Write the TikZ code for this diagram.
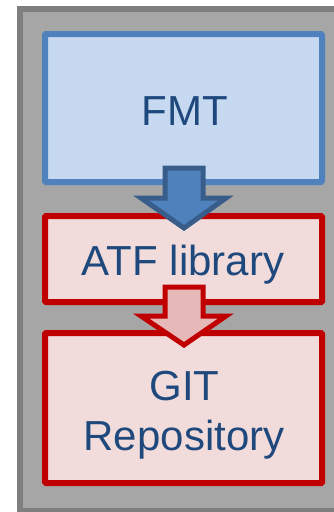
\documentclass[tikz,border=0pt]{standalone}
\usepackage{fontspec}
\setmainfont{Liberation Sans}
\definecolor{panelfill}{HTML}{A6A6A6}
\definecolor{panelline}{HTML}{7F7F7F}
\definecolor{blueline}{HTML}{4F81BD}
\definecolor{bluefill}{HTML}{C6D9F1}
\definecolor{bluearrowline}{HTML}{385D8A}
\definecolor{redline}{HTML}{C00000}
\definecolor{redfill}{HTML}{F2DCDB}
\definecolor{redarrowfill}{HTML}{E6B9B8}
\definecolor{textblue}{HTML}{1F497D}
\begin{document}
\begin{tikzpicture}[x=1pt,y=-1pt,
  box/.style={rectangle, line width=6pt, inner sep=0pt, outer sep=0pt, rounded corners=1pt},
  bluebox/.style={box, draw=blueline, fill=bluefill},
  redbox/.style={box, draw=redline, fill=redfill},
  lbl/.style={anchor=base, inner sep=0pt, text=textblue, font=\fontsize{42}{50}\selectfont},
  blockarrow/.style={line width=5pt, line join=miter}
]
\useasboundingbox (0,0) rectangle (334,512);
\clip (0,0) rectangle (334,512);
% grey panel behind the stack
\draw[line width=6pt, draw=panelline, fill=panelfill] (20,9) rectangle (345,511);
% the three layers
\node[bluebox, minimum width=277pt, minimum height=148pt] (fmt) at (183.5,108) {};
\node[redbox, minimum width=277pt, minimum height=86pt] (atf) at (183.5,259) {};
\node[redbox, minimum width=277pt, minimum height=150pt] (git) at (183.5,408) {};
% labels
\node[lbl] (fmtlabel) at (185,125) {FMT};
\node[lbl] (atflabel) at (183,275) {ATF library};
\node[lbl] (gitlabel) at (184.5,400) {GIT};
\node[lbl] (repolabel) at (184,450) {Repository};
% block arrows between layers
\draw[blockarrow, draw=bluearrowline, fill=blueline]
  (165,168) -- (203,168) -- (203,198) -- (226,198) -- (184,228) -- (141,198) -- (165,198) -- cycle;
\draw[blockarrow, draw=redline, fill=redarrowfill]
  (165,287) -- (203,287) -- (203,316) -- (226,316) -- (184,345) -- (141,316) -- (165,316) -- cycle;
\end{tikzpicture}
\end{document}
